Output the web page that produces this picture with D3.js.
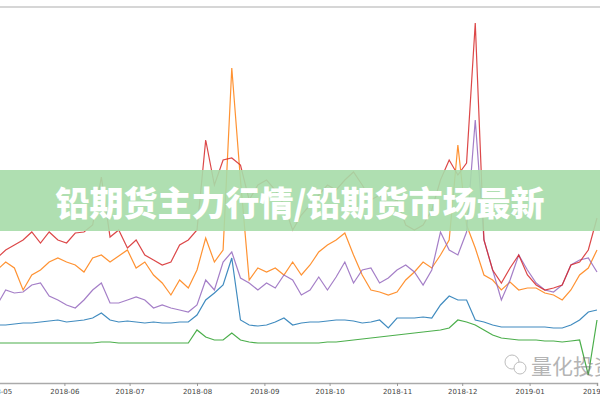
<!DOCTYPE html>
<html>
<head>
<meta charset="utf-8">
<script src="https://cdn.jsdelivr.net/npm/d3@7"></script>
<style>
  body { margin: 0; background: #fff; }
  svg { display: block; }
</style>
</head>
<body>
<div id="chart"></div>
<script>
// series values sampled every 4 days from 2018-05-01
const startDate = new Date(2018, 4, 1);
const stepDays = 4;
const tickLabels = ["2018-05", "2018-06", "2018-07", "2018-08", "2018-09", "2018-10",
  "2018-11", "2018-12", "2019-01", "2019-02"];

const green = [40,40,40,40,40,40,40,40,40,40,40,40,41,41,40,40,40,40,40,40,40,40,40,53,46,43,43,50,43,41,
  40,40,40,40,40,40,40,40,41,41,42,43,44,45,46,47,48,49,50,51,52,53,55,63,61,58,53,48,45,44,
  43,43,43,42,42,41,42,43,8,63];
const blue = [58,58,59,60,60,61,62,63,61,62,63,65,70,63,61,62,61,60,61,60,60,61,61,68,83,90,98,125,63,58,
  57,58,61,65,58,60,61,61,62,63,63,62,60,61,63,55,65,65,65,66,65,78,87,83,83,63,61,58,56,56,
  56,56,56,56,55,55,58,63,71,73];
const orange = [113,121,115,93,108,113,121,125,121,118,111,125,128,121,127,133,115,121,108,100,88,103,95,113,145,121,133,315,203,103,
  115,111,115,108,121,108,118,131,138,143,150,128,108,93,91,88,91,103,111,121,115,128,143,238,158,135,108,103,93,101,
  93,95,95,90,88,83,93,108,115,133];
const red = [125,133,138,143,151,140,151,143,140,150,151,158,206,146,153,135,143,128,123,118,121,138,143,153,243,198,223,225,218,183,
  198,203,193,178,153,168,178,188,198,193,203,211,198,183,188,178,183,158,153,158,173,203,223,208,220,360,143,113,100,115,
  128,108,98,93,95,98,118,121,133,165];
const purple = [78,93,90,91,98,100,87,83,78,75,83,93,100,80,80,83,86,83,75,78,75,73,71,78,103,93,121,131,105,100,
  93,100,95,108,103,88,93,106,93,106,121,100,113,115,100,105,113,118,111,98,113,151,133,128,151,263,143,113,83,103,
  128,113,100,93,91,98,118,123,125,111];

const seriesList = [
  { name: "green", values: green, color: "#2ca02c" },
  { name: "blue", values: blue, color: "#1f77b4" },
  { name: "orange", values: orange, color: "#ff7f0e" },
  { name: "purple", values: purple, color: "#9467bd" },
  { name: "red", values: red, color: "#d62728" }
];

const W = 600, H = 400;
const svg = d3.select("#chart").append("svg").attr("width", W).attr("height", H);

const x = d3.scaleTime()
  .domain([new Date(2018, 4, 1), new Date(2019, 1, 1)])
  .range([-3, 597]);
const y = d3.scaleLinear().domain([0, 376]).range([383, 7]);

// top frame line
svg.append("line").attr("x1", 0).attr("x2", W).attr("y1", 7).attr("y2", 7)
  .attr("stroke", "#c8c8c8").attr("stroke-width", 1.5);

const line = d3.line()
  .x((d, i) => x(d3.timeDay.offset(startDate, i * stepDays)))
  .y(d => y(d));

seriesList.forEach(s => {
  svg.append("path")
    .attr("d", line(s.values))
    .attr("fill", "none")
    .attr("stroke", s.color)
    .attr("stroke-width", 1.2)
    .attr("stroke-opacity", 0.85);
});

// x axis
const ticks = tickLabels.map(t => d3.timeParse("%Y-%m")(t));
const xAxis = svg.append("g").attr("transform", "translate(0,383)")
  .call(d3.axisBottom(x).tickValues(ticks).tickFormat(d3.timeFormat("%Y-%m")).tickSize(3));
xAxis.select(".domain").attr("stroke", "#aaa").attr("stroke-width", 1.5);
xAxis.selectAll(".tick line").attr("stroke", "#999");
xAxis.selectAll("text").attr("fill", "#444").style("font-size", "7px")
  .style("font-family", "'DejaVu Sans', sans-serif");

// watermark
const wm = svg.append("g").attr("opacity", 0.55);
wm.append("circle").attr("cx", 512).attr("cy", 362).attr("r", 7)
  .attr("fill", "none").attr("stroke", "#888").attr("stroke-width", 1);
wm.append("circle").attr("cx", 520).attr("cy", 368).attr("r", 6)
  .attr("fill", "#fff").attr("stroke", "#888").attr("stroke-width", 1);
wm.append("text").attr("x", 531).attr("y", 374).text("量化投资")
  .attr("fill", "#777").style("font-size", "21px")
  .style("font-family", "'Noto Sans CJK SC', sans-serif");

// title banner
svg.append("rect").attr("x", 0).attr("y", 170).attr("width", W).attr("height", 61)
  .attr("fill", "#a6dca8").attr("fill-opacity", 0.9);
svg.append("text").attr("x", 300).attr("y", 201)
  .attr("text-anchor", "middle").attr("dominant-baseline", "central")
  .attr("fill", "#fff")
  .style("font-size", "34px").style("font-weight", "900")
  .style("font-family", "'Noto Sans CJK SC', sans-serif")
  .text("铅期货主力行情/铅期货市场最新");
</script>
</body>
</html>
